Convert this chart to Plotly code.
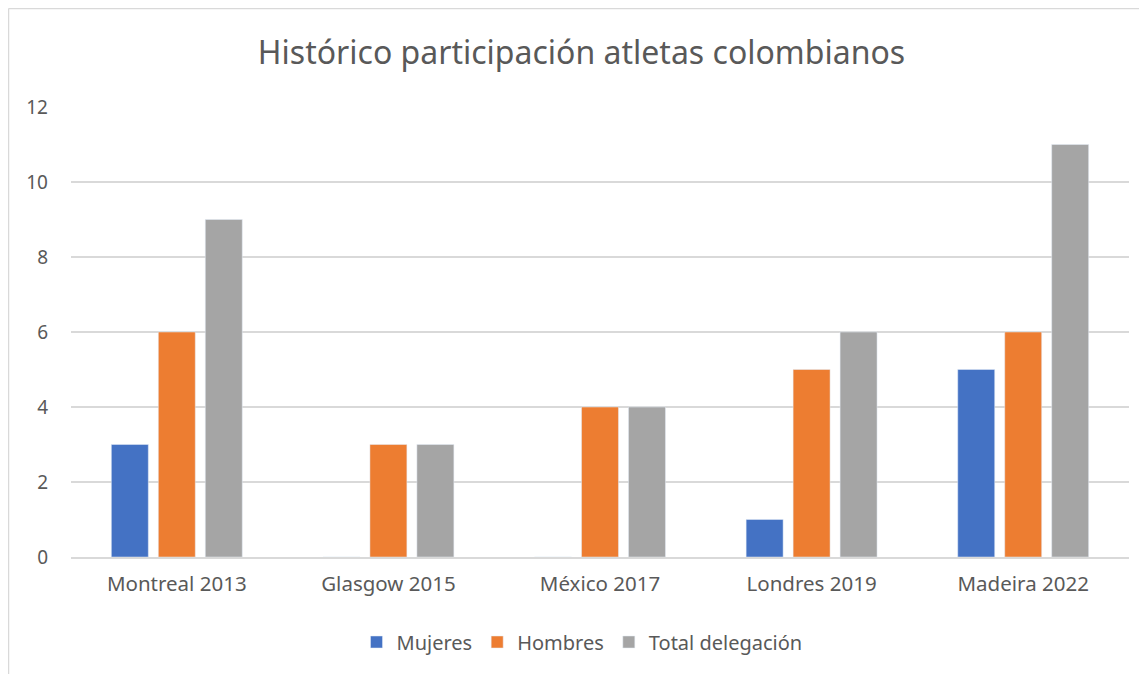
import plotly.graph_objects as go

categories = ["Montreal 2013", "Glasgow 2015", "México 2017", "Londres 2019", "Madeira 2022"]
mujeres = [3, 0, 0, 1, 5]
hombres = [6, 3, 4, 5, 6]
total = [9, 3, 4, 6, 11]
y_ticks = [0, 2, 4, 6, 8, 10, 12]

W, H = 1147, 674
OFF = 8  # page offset of the figure in the screenshot
ML, MR, MT, MB = 71 - OFF, W - (1129 - OFF), 107 - OFF, H - (557 - OFF)
pw, ph = W - ML - MR, H - MT - MB

def px(x):  # reference page x -> paper
    return (x - OFF - ML) / pw

def py(y):  # reference page y -> paper
    return (H - MB - (y - OFF)) / ph

font = "Noto Sans, Open Sans, sans-serif"
txt = "#595959"

fig = go.Figure()
fig.add_trace(go.Bar(name="Mujeres", x=categories, y=mujeres, marker_color="#4472C4"))
fig.add_trace(go.Bar(name="Hombres", x=categories, y=hombres, marker_color="#ED7D31"))
fig.add_trace(go.Bar(name="Total delegación", x=categories, y=total, marker_color="#A5A5A5"))

fig.update_layout(
    width=W, height=H,
    margin=dict(l=ML, r=MR, t=MT, b=MB),
    paper_bgcolor="white", plot_bgcolor="white",
    barmode="group", bargap=0.334, bargroupgap=0.213,
    title=dict(text="Histórico participación atletas colombianos", x=0.5, xanchor="center",
               y=1 - (53 - OFF) / H, yanchor="middle",
               font=dict(family=font, size=32, color=txt)),
    font=dict(family=font, size=20, color=txt),
    legend=dict(orientation="h", x=px(582), xanchor="center", y=py(642), yanchor="middle",
                font=dict(size=20, color=txt), traceorder="normal"),
    xaxis=dict(showgrid=False, showline=True, linecolor="#d9d9d9", linewidth=1.5,
               ticks="", ticklabelstandoff=8, tickfont=dict(size=20.5, color=txt)),
    yaxis=dict(range=[0, 12], tickvals=y_ticks, showgrid=True, gridcolor="#d9d9d9",
               gridwidth=1.5, zeroline=False, showline=False, ticks="",
               ticklabelstandoff=22, tickfont=dict(size=19, color=txt)),
    shapes=[
        dict(type="line", xref="paper", yref="paper", x0=px(8.5), x1=px(8.5), y0=py(H + 20), y1=py(8.5),
             line=dict(color="#d9d9d9", width=1.5)),
        dict(type="line", xref="paper", yref="paper", x0=px(8.5), x1=px(W + 20), y0=py(8.5), y1=py(8.5),
             line=dict(color="#d9d9d9", width=1.5)),
    ],
)

fig.write_html("out.html")
